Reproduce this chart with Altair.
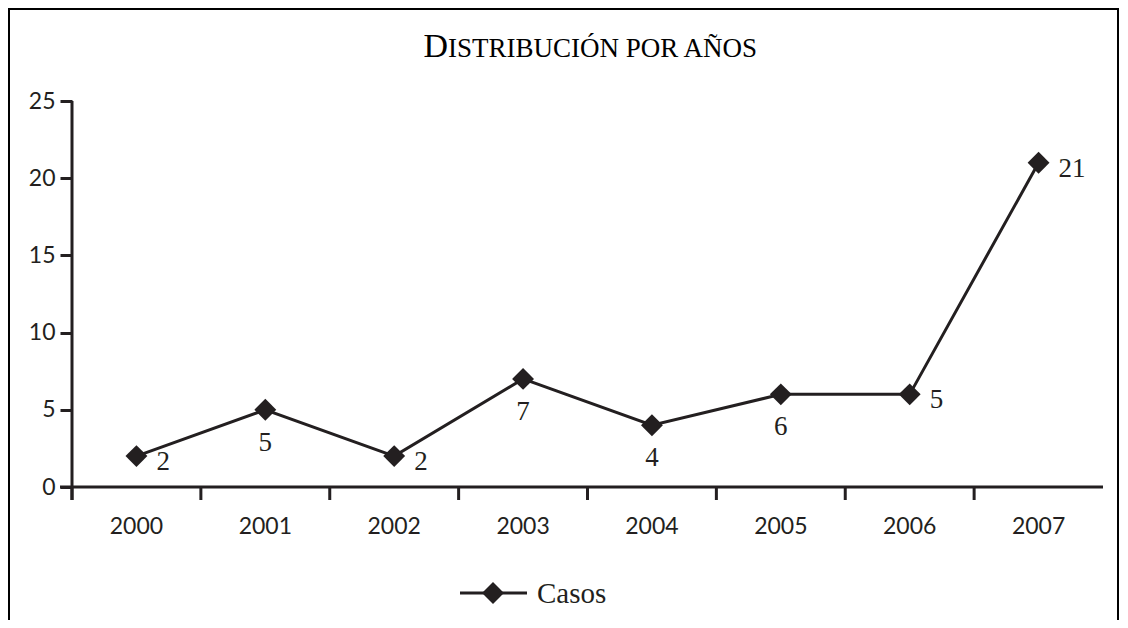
import altair as alt
import pandas as pd

# ---- data ----
years = ["2000", "2001", "2002", "2003", "2004", "2005", "2006", "2007"]
casos = [2, 5, 2, 7, 4, 6, 6, 21]
labels = ["2", "5", "2", "7", "4", "6", "5", "21"]
y_ticks = [0, 5, 10, 15, 20, 25]
series_name = "Casos"
title_text = "Distribución por años"
right_label_years = ["2000", "2002", "2006", "2007"]

df = pd.DataFrame({"year": years, "casos": casos, "label": labels})
one = pd.DataFrame({"k": [0]})

W, H = 1031, 386
INK = "#231f20"
SANS = "Lato"
SERIF = "Liberation Serif"

xenc = alt.X("year:N", sort=years,
             scale=alt.Scale(paddingInner=0, paddingOuter=0),
             axis=alt.Axis(domain=False, ticks=False, labelFont=SANS, labelFontSize=23,
                           labelColor=INK, labelPadding=28, labelAngle=0, title=None))
yenc = alt.Y("casos:Q", scale=alt.Scale(domain=[0, 25], nice=False, zero=True),
             axis=alt.Axis(values=y_ticks, domain=False, grid=False, tickSize=12, tickWidth=3,
                           tickColor=INK, labelFont=SANS, labelFontSize=23, labelColor=INK,
                           labelPadding=5, title=None))

base = alt.Chart(df)

line = base.mark_line(color=INK, strokeWidth=3).encode(x=xenc, y=yenc)
pts = base.mark_point(shape="diamond", filled=True, size=480, color=INK, opacity=1).encode(
    x=alt.X("year:N", sort=years), y="casos:Q")

lab_right = base.mark_text(font=SERIF, fontSize=27, color=INK, align="left",
                           baseline="middle", dx=20, dy=6).encode(
    x=alt.X("year:N", sort=years), y="casos:Q", text="label:N"
).transform_filter(alt.FieldOneOfPredicate(field="year", oneOf=right_label_years))

lab_below = base.mark_text(font=SERIF, fontSize=27, color=INK, align="center",
                           baseline="middle", dy=33).encode(
    x=alt.X("year:N", sort=years), y="casos:Q", text="label:N"
).transform_filter(~alt.FieldOneOfPredicate(field="year", oneOf=right_label_years))

xticks = base.mark_rule(color=INK, strokeWidth=3).encode(
    x=alt.X("year:N", sort=years, bandPosition=0),
    y=alt.value(H), y2=alt.value(H + 13))

ob = alt.Chart(one)
xaxis_line = ob.mark_rule(color=INK, strokeWidth=3).encode(
    x=alt.value(-12), x2=alt.value(W), y=alt.value(H))
yaxis_line = ob.mark_rule(color=INK, strokeWidth=3).encode(
    x=alt.value(0), y=alt.value(0), y2=alt.value(H + 13))

frame = ob.mark_rect(fill=None, stroke="#000000", strokeWidth=2).encode(
    x=alt.value(-63), x2=alt.value(1046), y=alt.value(-92), y2=alt.value(700))

t_first = title_text[0].upper()
t_rest = title_text[1:].upper()
title_big = ob.mark_text(font=SERIF, fontSize=34, color="#000000", align="right",
                         baseline="alphabetic").encode(
    x=alt.value(376), y=alt.value(-44), text=alt.value(t_first))
title_small = ob.mark_text(font=SERIF, fontSize=27, color="#000000", align="left",
                           baseline="alphabetic").encode(
    x=alt.value(376), y=alt.value(-44), text=alt.value(t_rest))

leg_line = ob.mark_rule(color=INK, strokeWidth=3).encode(
    x=alt.value(388), x2=alt.value(455), y=alt.value(492))
leg_pt = ob.mark_point(shape="diamond", filled=True, size=480, color=INK, opacity=1).encode(
    x=alt.value(421), y=alt.value(492))
leg_txt = ob.mark_text(font=SERIF, fontSize=29, color=INK, align="left",
                       baseline="middle").encode(
    x=alt.value(465), y=alt.value(493), text=alt.value(series_name))

chart = alt.layer(
    frame, line, xticks, xaxis_line, yaxis_line, pts, lab_right, lab_below,
    title_big, title_small, leg_line, leg_pt, leg_txt
).properties(
    width=W, height=H,
    padding={"left": 64, "top": 93, "right": 17, "bottom": 133},
    autosize=alt.AutoSizeParams(type="none"),
    background="white",
).configure_view(stroke=None)

chart.save("out.html", embed_options={"renderer": "svg", "actions": False})
